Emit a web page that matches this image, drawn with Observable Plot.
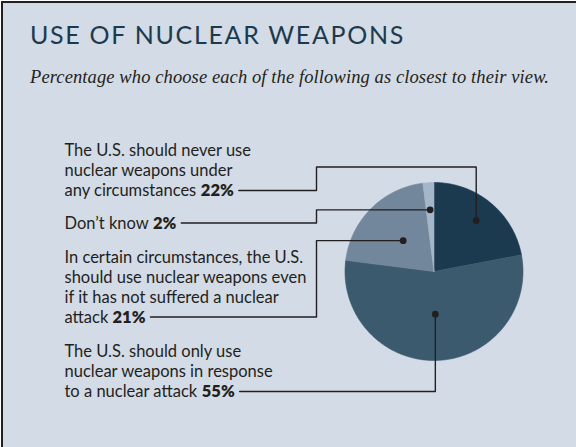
<!DOCTYPE html>
<html>
<head>
<meta charset="utf-8">
<script src="https://cdn.jsdelivr.net/npm/d3@7"></script>
<script src="https://cdn.jsdelivr.net/npm/@observablehq/plot@0.6"></script>
<style>
  html, body { margin: 0; padding: 0; background: #ffffff; }
  #frame {
    position: relative; margin: 1px 0 0 1px; width: 573px; height: 444px;
    border-top: 2px solid #231f20; border-left: 2px solid #231f20;
    background: #d3dbe6; overflow: hidden;
  }
  #title {
    position: absolute; left: 27px; top: 19px; margin: 0;
    font-family: Lato, sans-serif; font-weight: 400; font-size: 25px; line-height: 25px;
    letter-spacing: 1.8px; color: #1d3a4d; white-space: nowrap;
  }
  #subtitle {
    position: absolute; left: 27px; top: 64px; margin: 0;
    font-family: "Liberation Serif", serif; font-style: italic; font-size: 18.5px; line-height: 20px;
    color: #231f20; white-space: nowrap;
  }
  #chart { position: absolute; left: 0; top: 100px; }
</style>
</head>
<body>
<div id="frame">
  <div id="title">USE OF NUCLEAR WEAPONS</div>
  <div id="subtitle">Percentage who choose each of the following as closest to their view.</div>
  <div id="chart"></div>
</div>
<script>
// ---- data (slice order, clockwise from 12 o'clock) ----
const categories = ["never", "response", "certain", "dontknow"];
const values = [22, 55, 21, 2];
const percentLabels = ["22%", "55%", "21%", "2%"];
const labelTexts = [
  "The U.S. should never use\nnuclear weapons under\nany circumstances",
  "The U.S. should only use\nnuclear weapons in response\nto a nuclear attack",
  "In certain circumstances, the U.S.\nshould use nuclear weapons even\nif it has not suffered a nuclear\nattack",
  "Don\u2019t know"
];
const sliceColors = ["#1b3a4f", "#3c5a6e", "#72879b", "#a5b6c8"];

// ---- layout (page pixels) ----
const W = 573, H = 344, OX = 3, OY = 103;           // svg origin on page
const CX = 433.5 - OX, CY = 271 - OY, R = 89;         // pie centre / radius in svg px
const labelLeft = 64;
const leaderY = [190, 391, 316.5, 222.5];
const leaderRoute = ["over", "direct", "elbow", "elbow"];
const overY = 166.5, elbowX = 316;
const dotFrac = [0.744, 0.48, 0.49, 0.694];
const FONT = "Lato, sans-serif", FS = 16.5;
const subtitleWidth = 519, titleWidth = 376;

const ux = p => (p - OX - CX) / R;   // page x -> pie units
const uy = p => (CY - (p - OY)) / R; // page y -> pie units

const ctx = document.createElement("canvas").getContext("2d");
const measure = (t, w) => { ctx.font = `${w} ${FS}px Lato`; return ctx.measureText(t).width; };

// fit header line lengths to the reference's
function fitWidth(id, font, target) {
  const el = document.getElementById(id);
  ctx.font = font;
  const t = el.textContent;
  const w = ctx.measureText(t).width;
  el.style.letterSpacing = ((target - w) / t.length).toFixed(3) + "px";
}
fitWidth("subtitle", "italic 18.5px 'Liberation Serif'", subtitleWidth);
fitWidth("title", "400 25px Lato", titleWidth);

// pie geometry
const arcs = d3.pie().sort(null).value(d => d)(values);
const slicePts = [];
arcs.forEach((a, i) => {
  slicePts.push({cat: categories[i], x: 0, y: 0});
  const n = Math.max(4, Math.ceil((a.endAngle - a.startAngle) / (Math.PI / 180)));
  for (let k = 0; k <= n; k++) {
    const t = a.startAngle + (a.endAngle - a.startAngle) * k / n;
    slicePts.push({cat: categories[i], x: Math.sin(t), y: Math.cos(t)});
  }
  slicePts.push({cat: categories[i], x: 0, y: 0});
});

const dots = arcs.map((a, i) => {
  const m = (a.startAngle + a.endAngle) / 2;
  return {cat: categories[i], x: dotFrac[i] * Math.sin(m), y: dotFrac[i] * Math.cos(m)};
});

const labels = [], pcts = [], leaders = [];
labelTexts.forEach((txt, i) => {
  const lines = txt.split("\n");
  const last = lines[lines.length - 1];
  const base = leaderY[i] + 5.5;
  const pctX = labelLeft + measure(last + " ", "400");
  const endX = pctX + measure(percentLabels[i], "800") + 5;
  labels.push({text: txt, x: ux(labelLeft), y: uy(base)});
  pcts.push({text: percentLabels[i], x: ux(pctX), y: uy(base)});
  const d = dots[i], ly = uy(leaderY[i]);
  let pts;
  if (leaderRoute[i] === "over")
    pts = [[ux(endX), ly], [ux(elbowX), ly], [ux(elbowX), uy(overY)], [d.x, uy(overY)], [d.x, d.y]];
  else if (leaderRoute[i] === "elbow")
    pts = [[ux(endX), ly], [ux(elbowX), ly], [ux(elbowX), d.y], [d.x, d.y]];
  else
    pts = [[ux(endX), ly], [d.x, ly], [d.x, d.y]];
  pts.forEach(([x, y]) => leaders.push({cat: categories[i], x, y}));
});

const chart = Plot.plot({
  width: W, height: H, margin: 0,
  style: {background: "transparent", overflow: "visible"},
  x: {domain: [-1, 1], range: [CX - R, CX + R], axis: null},
  y: {domain: [-1, 1], range: [CY + R, CY - R], axis: null},
  color: {domain: categories, range: sliceColors},
  marks: [
    Plot.line(slicePts, {x: "x", y: "y", z: "cat", fill: "cat", stroke: "cat", strokeWidth: 0.6, curve: "linear"}),
    Plot.line(leaders, {x: "x", y: "y", z: "cat", stroke: "#231f20", strokeWidth: 1.4, curve: "linear"}),
    Plot.dot(dots, {x: "x", y: "y", r: 3.4, fill: "#231f20", stroke: "none"}),
    Plot.text(labels, {x: "x", y: "y", text: "text", textAnchor: "start", lineAnchor: "bottom",
      lineHeight: 20 / FS, fontSize: FS, fontFamily: FONT, fill: "#231f20"}),
    Plot.text(pcts, {x: "x", y: "y", text: "text", textAnchor: "start", lineAnchor: "bottom",
      fontSize: FS, fontFamily: FONT, fontWeight: 800, fill: "#231f20"})
  ]
});
document.getElementById("chart").appendChild(chart);
</script>
</body>
</html>
